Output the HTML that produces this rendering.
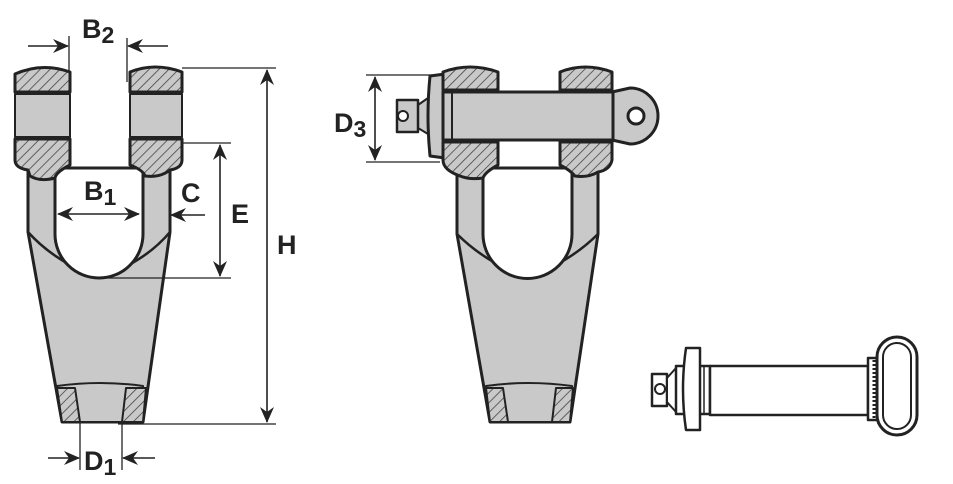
<!DOCTYPE html>
<html><head><meta charset="utf-8"><style>
html,body{margin:0;padding:0;background:#fff;}
svg{display:block;}
text{font-family:"Liberation Sans",sans-serif;font-weight:bold;fill:#222;}
</style></head><body>
<svg width="953" height="484" viewBox="0 0 953 484" xmlns="http://www.w3.org/2000/svg">
<defs>
<pattern id="h" width="7" height="7" patternUnits="userSpaceOnUse" patternTransform="rotate(45)">
<rect width="7" height="7" fill="#c9c9c9"/><line x1="0" y1="0" x2="0" y2="7" stroke="#444" stroke-width="1.6"/>
</pattern>
<marker id="a" viewBox="0 0 16 14" refX="15" refY="7" markerWidth="17" markerHeight="14" orient="auto-start-reverse" markerUnits="userSpaceOnUse">
<path d="M0,0 L16,7 L0,14 L5,7 z" fill="#222"/></marker>
</defs>
<g stroke="#222" stroke-width="3" stroke-linejoin="round">
<!-- LEFT VIEW body -->
<path d="M28,168 L28,232 L62,422 L143,422 L170,232 L170,168 Z" fill="#c9c9c9"/>
<path d="M28,232 Q55,262 99,278 Q145,262 170,232" fill="none" stroke-width="2.5"/>
<path d="M55,168 L55,234 A44,44 0 0 0 143,234 L143,168 Z" fill="#fff"/>
<path d="M62,422 L57,386 Q100,380 143,386 L143,422 Z" fill="#c9c9c9" stroke-width="2"/>
<path d="M62,422 L57,388 L75,388 L80,422 Z M143,422 L146,388 L126,388 L122,422 Z" fill="url(#h)" stroke-width="2"/>
<!-- lugs -->
<path d="M15,92 L15,74 Q42,62 70,72 L70,92 Z" fill="url(#h)"/>
<rect x="15" y="94" width="55" height="43" fill="#c9c9c9" stroke-width="2"/>
<path d="M15,139 L70,139 L70,165 Q56,172 55,178 Q40,182 30,176 L28,170 Q15,168 15,160 Z" fill="url(#h)"/>
<path d="M130,92 L130,72 Q155,62 182,72 L182,92 Z" fill="url(#h)"/>
<rect x="130" y="94" width="52" height="43" fill="#c9c9c9" stroke-width="2"/>
<path d="M130,139 L182,139 L182,160 Q182,168 170,170 Q160,178 145,176 Q143,170 130,165 Z" fill="url(#h)"/>
<!-- MIDDLE VIEW body -->
<path d="M457,168 L457,234 L490,422 L570,422 L598,234 L598,168 Z" fill="#c9c9c9"/>
<path d="M457,234 Q485,262 527,278 Q570,262 598,234" fill="none" stroke-width="2.5"/>
<path d="M483,168 L483,234 A44.5,44.5 0 0 0 572,234 L572,168 Z" fill="#fff"/>
<path d="M490,422 L486,386 Q528,380 572,386 L570,422 Z" fill="#c9c9c9" stroke-width="2"/>
<path d="M490,422 L486,388 L503,388 L508,422 Z M570,422 L573,388 L556,388 L552,422 Z" fill="url(#h)" stroke-width="2"/>
<!-- pin -->
<path d="M612,92 L630,88 A28,28 0 0 1 630,144 L612,140 Z" fill="#c9c9c9"/>
<circle cx="636" cy="116" r="8" fill="#fff"/>
<path d="M418,105 L428,98 L428,134 L418,128 Z" fill="#c9c9c9" stroke-width="2"/>
<rect x="397" y="100" width="21" height="32" fill="#c9c9c9" stroke-width="2.5"/>
<circle cx="403" cy="116" r="5" fill="#fff" stroke-width="2"/>
<path d="M430,76 L445,74 L445,158 L430,156 Q426,116 430,76 Z" fill="#c9c9c9"/>
<rect x="443" y="92" width="170" height="48" fill="#c9c9c9"/>
<line x1="452" y1="93" x2="452" y2="139" stroke-width="2"/>
<path d="M443,90 L443,72 Q470,62 498,72 L498,90 Z" fill="url(#h)"/>
<path d="M443,142 L498,142 L498,165 Q485,172 483,178 Q470,180 460,176 Q443,170 443,160 Z" fill="url(#h)"/>
<path d="M560,90 L560,72 Q585,62 612,72 L612,90 Z" fill="url(#h)"/>
<path d="M560,142 L612,142 L612,160 Q610,170 598,172 Q588,178 575,176 Q570,170 560,165 Z" fill="url(#h)"/>
<!-- RIGHT VIEW pin -->
<rect x="652" y="374" width="15" height="32" fill="#fff" stroke-width="2.5"/>
<circle cx="660" cy="389" r="5" fill="#fff" stroke-width="2"/>
<path d="M667,378 L676,368 L676,412 L667,402 Z" fill="#fff" stroke-width="2"/>
<rect x="676" y="366" width="34" height="48" fill="#fff" stroke-width="2.5"/>
<line x1="704" y1="367" x2="704" y2="413" stroke-width="1.5"/>
<path d="M686,348 L700,348 L700,430 L686,430 Q680,389 686,348 Z" fill="#fff" stroke-width="2.5"/>
<rect x="710" y="366" width="158" height="49" fill="#fff" stroke-width="2.5"/>
<rect x="868" y="358" width="12" height="62" fill="#fff" stroke-width="2.5"/>
<line x1="874" y1="360" x2="874" y2="418" stroke-width="3" stroke-dasharray="2 2"/>
<rect x="877" y="337" width="40" height="98" rx="20" fill="#fff" stroke-width="3"/>
<rect x="883" y="343" width="28" height="86" rx="14" fill="none" stroke-width="2"/>
</g>
<!-- dimension lines -->
<g stroke="#222" stroke-width="1.3" fill="none">
<line x1="69" y1="36" x2="69" y2="72"/><line x1="127" y1="38" x2="127" y2="82"/>
<line x1="182" y1="68" x2="276" y2="68"/><line x1="118" y1="424" x2="276" y2="424"/>
<line x1="182" y1="143" x2="231" y2="143"/><line x1="100" y1="278" x2="231" y2="278"/>
<line x1="80" y1="422" x2="80" y2="470"/><line x1="122" y1="422" x2="122" y2="470"/>
<line x1="366" y1="75" x2="432" y2="75"/><line x1="366" y1="162" x2="440" y2="162"/>
</g>
<g stroke="#222" stroke-width="1.6" fill="none">
<line x1="28" y1="46" x2="68" y2="46" marker-end="url(#a)"/>
<line x1="168" y1="46" x2="128" y2="46" marker-end="url(#a)"/>
<line x1="267" y1="70" x2="267" y2="422" marker-start="url(#a)" marker-end="url(#a)"/>
<line x1="220" y1="145" x2="220" y2="276" marker-start="url(#a)" marker-end="url(#a)"/>
<line x1="58" y1="214" x2="139" y2="214" marker-start="url(#a)" marker-end="url(#a)"/>
<line x1="205" y1="215" x2="171" y2="215" marker-end="url(#a)"/>
<line x1="48" y1="458" x2="79" y2="458" marker-end="url(#a)"/>
<line x1="155" y1="458" x2="123" y2="458" marker-end="url(#a)"/>
<line x1="375" y1="77" x2="375" y2="160" marker-start="url(#a)" marker-end="url(#a)"/>
</g>
<g font-size="27">
<text x="82" y="38">B<tspan font-size="23" dy="5">2</tspan></text>
<text x="84" y="200">B<tspan font-size="23" dy="5">1</tspan></text>
<text x="181" y="202">C</text>
<text x="231" y="223">E</text>
<text x="277" y="254">H</text>
<text x="84" y="470">D<tspan font-size="23" dy="5">1</tspan></text>
<text x="334" y="132">D<tspan font-size="23" dy="5">3</tspan></text>
</g>
</svg>
</body></html>
